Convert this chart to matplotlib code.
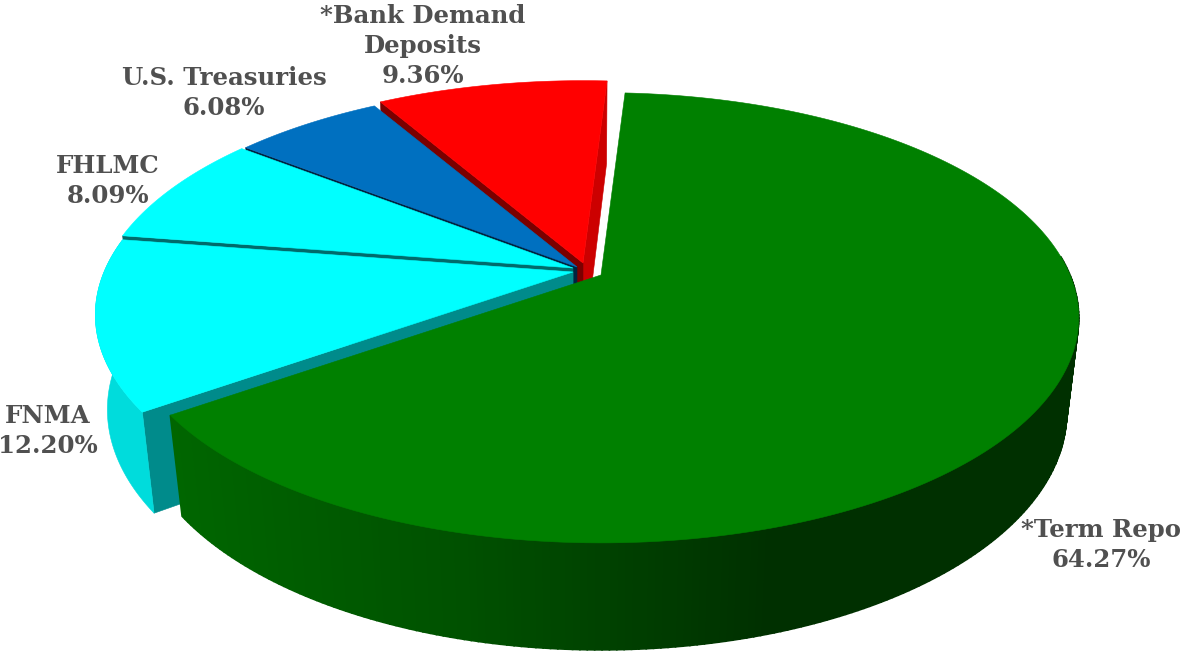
#!/usr/bin/env python3
"""Exploded 3D pie of portfolio holdings, perspective done by hand."""
import numpy as np, matplotlib
matplotlib.use("Agg")
import matplotlib.pyplot as plt
from matplotlib.colors import LinearSegmentedColormap
from matplotlib.patches import Polygon

# data, clockwise from just right of 12 o'clock
names = ["*Term Repo", "FNMA", "FHLMC", "U.S. Treasuries", "*Bank Demand\nDeposits"]
shares = [64.27, 12.20, 8.09, 6.08, 9.36]

# styles per slice
TOP = ["#008000", "#00FFFF", "#00FFFF", "#0070C0", "#FF0000"]
START_CUT = [None, "#008B8B", "#006B6B", "#00233F", "#7A0000"]  # face under the slice's first edge
END_CUT = [None, None, None, None, "#CC0000"]                   # face under its last edge
APEX = [(601, 275), (573, 272), (573, 268), (577, 267), (583, 263)]
LABEL_XY = [(1101, 530), (48, 416), (108, 166), (224, 78), (423, 16)]
DRAW_ORDER = [4, 3, 2, 1, 0]

START, R, S, K, T, M = 3.5, 469, 217, 0.19, 96, 0.025
wall_cmap = LinearSegmentedColormap.from_list("wall", ["#006600", "#005000", "#003000", "#003000"])


def rim(a, h=0.0):
    """Project angle a (deg clockwise from top) on the rim, h=0 top face, h=1 bottom."""
    a = np.radians(a)
    X, Y = np.sin(a), np.cos(a)
    d = 1 + K * Y + M * h
    return np.column_stack([R * X / d, -(S * Y - T * h) / d])


def centre(h=0.0):
    return np.array([[0.0, T * h / (1 + M * h)]])


fig = plt.figure(figsize=(11.81, 6.52), dpi=100)
ax = fig.add_axes([0, 0, 1, 1])
ax.set_xlim(0, 1181); ax.set_ylim(652, 0); ax.axis("off")

edges = START + np.cumsum([0] + shares) * 3.6


def poly(pts, apex, col, lw=0.4):
    ax.add_patch(Polygon(pts + np.array(apex), closed=True, fc=col, ec=col, lw=lw))


for i in DRAW_ORDER:
    a0, a1, apex = edges[i], edges[i + 1], APEX[i]
    if END_CUT[i]:
        poly(np.vstack([centre(), rim([a1]), rim([a1], 1), centre(1)]), apex, END_CUT[i])
    if START_CUT[i]:
        poly(np.vstack([centre(), rim([a0]), rim([a0], 1), centre(1)]), apex, START_CUT[i])
    if i == 1:  # FNMA outer wall
        aa = np.linspace(a0, a1, 60)
        poly(np.vstack([rim(aa), rim(aa[::-1], 1)]), apex, "#00DCDC")
    if i == 0:  # term repo outer wall, shaded left to right; the far part is hidden anyway
        aa = np.linspace(85, a1, 200)
        xr = (rim(aa)[:, 0] + apex[0] - 170) / 910
        for j in np.argsort(-rim(aa[:-1], 1)[:, 0]):
            seg = aa[j:j + 2]
            poly(np.vstack([rim(seg), rim(seg[::-1], 1)]), apex, wall_cmap(np.clip(xr[j], 0, 1)), lw=1.2)
    aa = np.linspace(a0, a1, 200)
    poly(np.vstack([centre(), rim(aa)]), apex, TOP[i])

for i, (n, (lx, ly)) in enumerate(zip(names, LABEL_XY)):
    for k, line in enumerate(n.split("\n") + [f"{shares[i]:.2f}%"]):
        ax.text(lx, ly + 30 * k, line, ha="center", va="center", color="#505050",
                fontsize=17.6, fontweight="bold", family="DejaVu Serif")

fig.savefig("out.png", dpi=100)
